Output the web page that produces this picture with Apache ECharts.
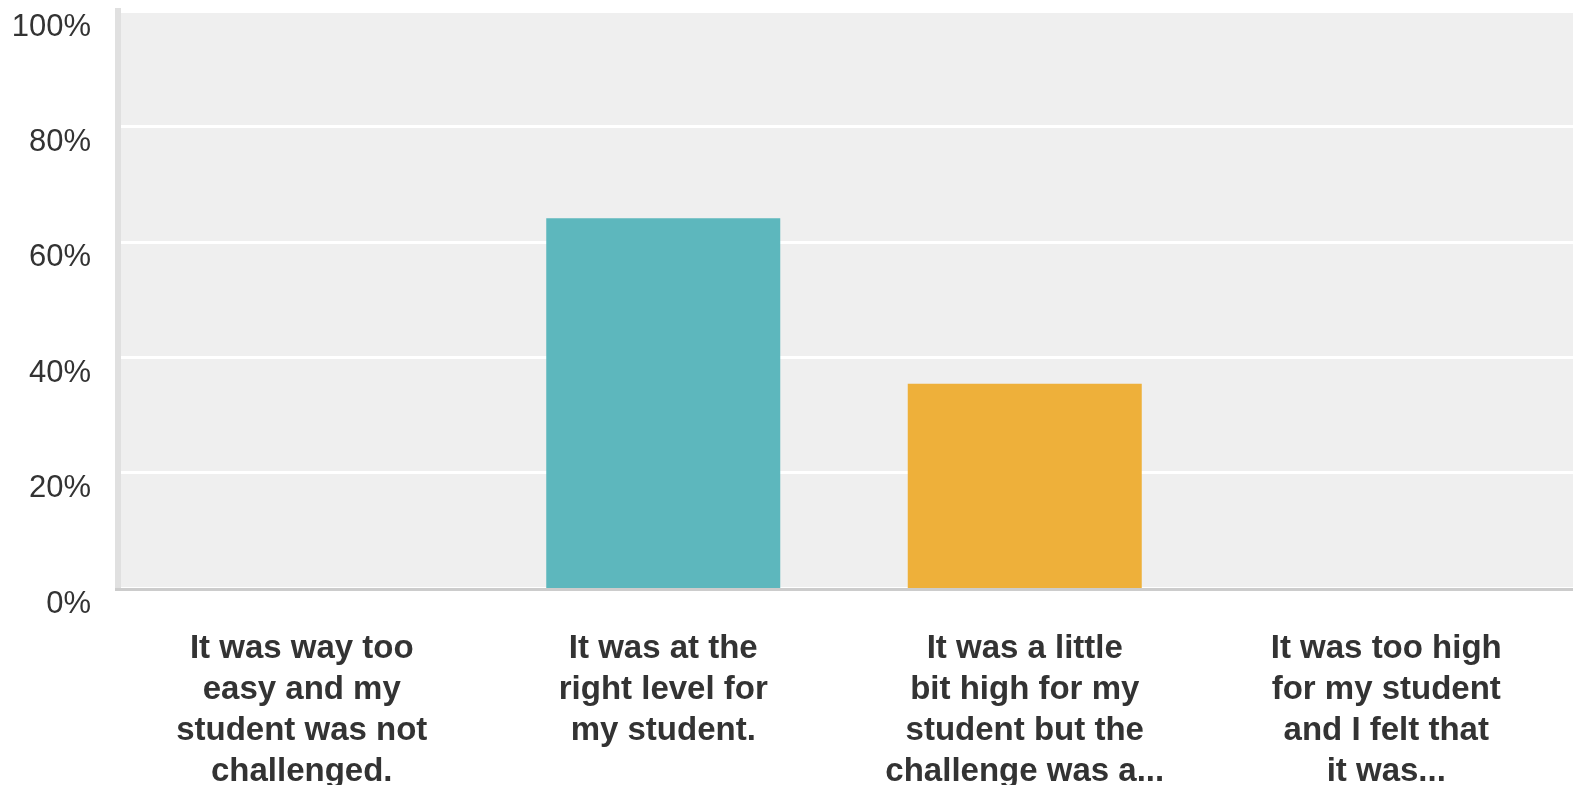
<!DOCTYPE html>
<html>
<head>
<meta charset="utf-8">
<script src="https://cdn.jsdelivr.net/npm/echarts@6/dist/echarts.min.js"></script>
<style>
  html, body { margin: 0; padding: 0; background: #ffffff; }
  #chart { width: 1578px; height: 785px; }
</style>
</head>
<body>
<div id="chart"></div>
<script>
// Survey answers (x categories), already wrapped / truncated as displayed
const categories = [
  'It was way too\neasy and my\nstudent was not\nchallenged.',
  'It was at the\nright level for\nmy student.',
  'It was a little\nbit high for my\nstudent but the\nchallenge was a...',
  'It was too high\nfor my student\nand I felt that\nit was...'
];
// Share of respondents per answer, in percent
const percentages = [0, 64.1, 35.4, 0];
// Bar fill per answer
const barColors = ['#5db7bd', '#5db7bd', '#eeb03a', '#5db7bd'];
// Value-axis tick labels (0 to 100 in steps of 20)
const tickValues = [0, 20, 40, 60, 80, 100];
const tickLabels = ['0%', '20%', '40%', '60%', '80%', '100%'];

// Page layout
const W = 1578, H = 785;
const plotTop = 11, plotBottom = 588;
const bgLeft = 121, bgRight = 1573;
const barsRight = 1567;
const frameLeft = 115;

const chart = echarts.init(document.getElementById('chart'), null, { renderer: 'canvas' });

chart.setOption({
  animation: false,
  backgroundColor: '#ffffff',
  grid: [
    { // panel: background and white gridlines
      left: bgLeft, right: W - bgRight, top: plotTop, bottom: H - plotBottom,
      outerBoundsMode: 'none', containLabel: false,
      show: true, backgroundColor: '#efefef', borderWidth: 0
    },
    { // bars
      left: bgLeft, right: W - barsRight, top: plotTop, bottom: H - plotBottom,
      outerBoundsMode: 'none', containLabel: false
    }
  ],
  xAxis: [
    { gridIndex: 0, type: 'category', data: [''], show: false },
    {
      gridIndex: 1,
      type: 'category',
      data: categories,
      axisLine: { show: false },
      axisTick: { show: false },
      axisLabel: {
        interval: 0,
        margin: 40,
        color: '#333333',
        fontFamily: '"Liberation Sans", Arial, sans-serif',
        fontWeight: 'bold',
        fontSize: 33,
        lineHeight: 41,
        align: 'center'
      }
    }
  ],
  yAxis: [
    {
      gridIndex: 0,
      type: 'value',
      min: 0, max: 100, interval: 20,
      axisLine: { show: false },
      axisTick: { show: false },
      splitLine: { show: true, lineStyle: { color: '#ffffff', width: 3 } },
      axisLabel: {
        margin: 30,
        color: '#333333',
        fontFamily: '"Liberation Sans", Arial, sans-serif',
        fontSize: 31,
        lineHeight: 32,
        verticalAlign: 'top',
        formatter: function (v) {
          const i = tickValues.indexOf(v);
          return i >= 0 ? tickLabels[i] : '';
        }
      }
    },
    { gridIndex: 1, type: 'value', min: 0, max: 100, interval: 20, show: false, splitLine: { show: false } }
  ],
  graphic: [
    { // left frame band
      type: 'rect', z: 50,
      shape: { x: frameLeft, y: plotTop - 3, width: bgLeft - frameLeft, height: plotBottom - plotTop + 6 },
      style: { fill: '#e0e0e0' }
    },
    { // baseline
      type: 'rect', z: 51,
      shape: { x: frameLeft, y: plotBottom, width: bgRight - frameLeft, height: 3 },
      style: { fill: '#cccccc' }
    }
  ],
  series: [
    {
      type: 'bar',
      xAxisIndex: 1,
      yAxisIndex: 1,
      barWidth: 234,
      z: 5,
      data: percentages.map(function (v, i) {
        return { value: v, itemStyle: { color: barColors[i] } };
      })
    }
  ]
});
</script>
</body>
</html>
